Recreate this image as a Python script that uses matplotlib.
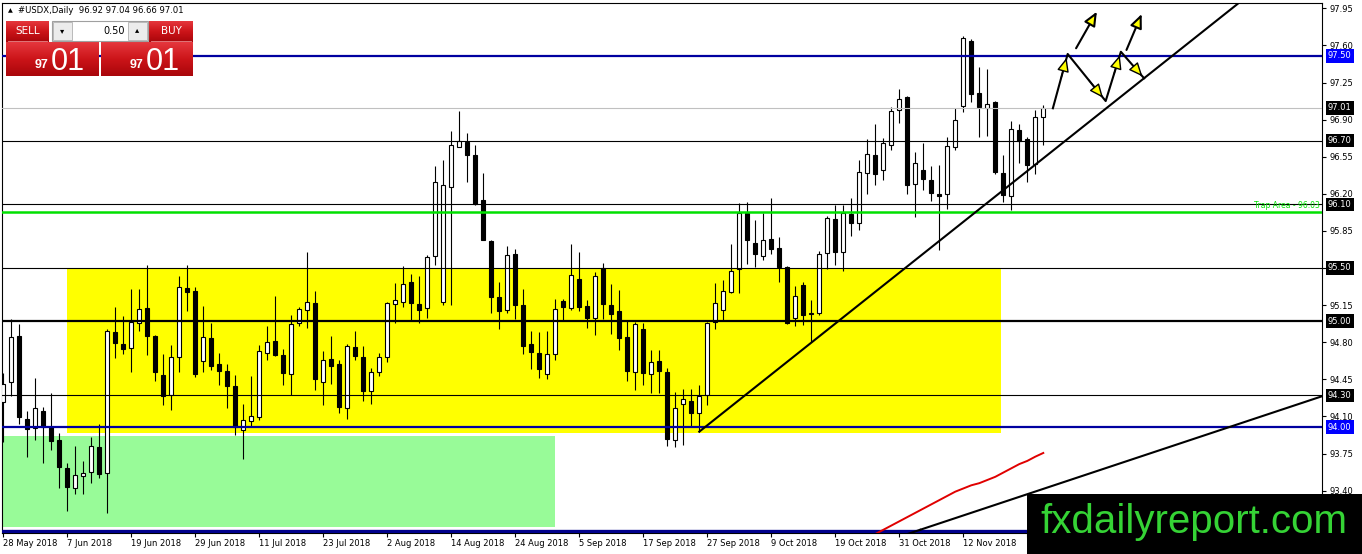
import numpy as np
import pandas as pd
import matplotlib
matplotlib.use('Agg')
import matplotlib.pyplot as plt
import matplotlib.transforms as mtransforms
from matplotlib.patches import Rectangle
from matplotlib.colors import LinearSegmentedColormap

plt.rcParams['font.family'] = ['DejaVu Sans']

# USDX daily candles, 28 May 2018 .. 26 Nov 2018
opens = [94.24, 94.42, 94.86, 94.08, 93.99, 94.15, 94.00, 93.88, 93.61, 93.42,
         93.54, 93.58, 93.81, 93.57, 94.90, 94.78, 94.75, 94.98, 95.12, 94.86,
         94.49, 94.30, 94.66, 95.31, 95.28, 94.62, 94.84, 94.59, 94.53, 94.39,
         93.97, 94.06, 94.09, 94.70, 94.81, 94.68, 94.50, 94.98, 95.10, 95.17,
         94.42, 94.64, 94.59, 94.18, 94.75, 94.66, 94.34, 94.52, 94.66, 95.16,
         95.18, 95.37, 95.16, 95.12, 95.61, 95.18, 96.26, 96.64, 96.69, 96.57,
         96.14, 95.75, 95.23, 95.10, 95.63, 95.15, 94.78, 94.70, 94.50, 94.69,
         95.19, 95.12, 95.40, 95.14, 95.03, 95.50, 95.15, 95.09, 94.85, 94.52,
         94.92, 94.50, 94.62, 94.52, 93.88, 94.22, 94.25, 94.13, 94.30, 94.99,
         95.10, 95.27, 95.49, 96.02, 95.74, 95.61, 95.77, 95.69, 95.51, 95.03,
         95.34, 95.07, 95.08, 95.64, 95.96, 95.65, 96.01, 95.92, 96.40, 96.57,
         96.42, 96.66, 96.99, 97.11, 96.29, 96.42, 96.33, 96.20, 96.20, 96.64,
         97.03, 97.64, 97.15, 97.01, 97.07, 96.40, 96.18, 96.80, 96.72, 96.48,
         96.92]
highs = [94.51, 95.02, 94.97, 94.15, 94.46, 94.19, 94.32, 93.94, 93.66, 93.82,
         93.68, 93.91, 94.03, 94.92, 95.13, 95.05, 95.30, 95.30, 95.53, 94.87,
         94.69, 94.77, 95.42, 95.53, 95.32, 95.14, 94.98, 94.70, 94.59, 94.49,
         94.22, 94.48, 94.77, 94.95, 95.24, 94.74, 95.06, 95.13, 95.65, 95.28,
         94.72, 94.86, 94.63, 94.78, 94.91, 94.76, 94.56, 94.70, 95.18, 95.36,
         95.52, 95.44, 95.42, 95.62, 96.46, 96.52, 96.79, 96.98, 96.77, 96.66,
         96.40, 95.76, 95.37, 95.71, 95.68, 95.30, 94.91, 94.90, 94.91, 95.21,
         95.21, 95.73, 95.65, 95.20, 95.46, 95.55, 95.35, 95.29, 95.00, 94.99,
         94.98, 94.73, 94.73, 94.56, 94.33, 94.36, 94.36, 94.40, 94.99, 95.36,
         95.39, 95.73, 96.11, 96.12, 95.95, 96.02, 96.16, 95.79, 95.52, 95.33,
         95.37, 95.20, 95.66, 95.99, 96.09, 96.09, 96.16, 96.52, 96.72, 96.86,
         96.73, 97.02, 97.19, 97.12, 96.59, 96.68, 96.46, 96.47, 96.74, 97.01,
         97.69, 97.66, 97.40, 97.38, 97.08, 96.57, 96.89, 96.86, 96.74, 96.99,
         97.04]
lows = [93.86, 94.29, 94.03, 93.72, 93.88, 93.66, 93.78, 93.42, 93.21, 93.37,
        93.37, 93.47, 93.52, 93.19, 94.65, 94.69, 94.52, 94.91, 94.68, 94.43,
        94.21, 94.16, 94.52, 95.09, 94.47, 94.52, 94.54, 94.40, 94.18, 93.92,
        93.70, 94.00, 94.07, 94.63, 94.67, 94.40, 94.30, 94.95, 94.93, 94.35,
        94.21, 94.41, 94.13, 94.08, 94.63, 94.25, 94.22, 94.48, 94.61, 94.98,
        95.13, 95.01, 94.98, 95.03, 95.53, 95.15, 95.15, 96.64, 96.31, 96.09,
        95.76, 95.08, 94.92, 95.08, 95.02, 94.69, 94.55, 94.46, 94.45, 94.63,
        95.01, 95.10, 95.09, 94.93, 94.87, 95.02, 94.88, 94.73, 94.43, 94.35,
        94.40, 94.32, 94.32, 93.82, 93.81, 93.83, 94.00, 93.955, 94.21, 94.92,
        95.01, 95.26, 95.26, 95.54, 95.51, 95.58, 95.63, 95.37, 94.97, 94.95,
        94.96, 94.80, 95.06, 95.49, 95.53, 95.47, 95.80, 95.86, 96.20, 96.28,
        96.33, 96.61, 96.87, 96.20, 95.98, 96.24, 96.13, 95.67, 96.06, 96.61,
        96.97, 97.07, 96.74, 96.75, 96.39, 96.12, 96.05, 96.49, 96.31, 96.39,
        96.66]
closes = [94.41, 94.85, 94.09, 93.98, 94.18, 94.00, 93.87, 93.62, 93.43, 93.55,
          93.57, 93.82, 93.56, 94.91, 94.79, 94.74, 94.99, 95.11, 94.86, 94.52,
          94.29, 94.66, 95.32, 95.27, 94.50, 94.85, 94.58, 94.53, 94.39, 94.00,
          94.07, 94.10, 94.72, 94.80, 94.68, 94.51, 94.97, 95.11, 95.18, 94.45,
          94.63, 94.58, 94.19, 94.76, 94.67, 94.34, 94.52, 94.66, 95.17, 95.20,
          95.35, 95.17, 95.10, 95.60, 96.31, 96.28, 96.66, 96.70, 96.57, 96.10,
          95.76, 95.23, 95.09, 95.62, 95.15, 94.76, 94.71, 94.55, 94.69, 95.11,
          95.13, 95.43, 95.13, 95.03, 95.42, 95.16, 95.07, 94.84, 94.53, 94.97,
          94.51, 94.61, 94.53, 93.89, 94.18, 94.26, 94.13, 94.29, 94.98, 95.17,
          95.28, 95.47, 96.02, 95.76, 95.63, 95.76, 95.68, 95.51, 94.98, 95.24,
          95.06, 95.08, 95.63, 95.97, 95.65, 96.02, 95.92, 96.41, 96.58, 96.39,
          96.68, 96.98, 97.09, 96.28, 96.49, 96.34, 96.21, 96.18, 96.65, 96.90,
          97.67, 97.14, 97.02, 97.05, 96.41, 96.19, 96.81, 96.70, 96.47, 96.92,
          97.01]

dates = pd.bdate_range('2018-05-28', periods=len(opens))

# red moving average, visible part only (bar index, value)
ma_idx = list(range(109, 131))
ma_vals = [92.99, 93.03, 93.07, 93.11, 93.15, 93.19, 93.23, 93.27, 93.31, 93.35,
           93.39, 93.42, 93.45, 93.47, 93.50, 93.53, 93.57, 93.61, 93.65, 93.68,
           93.72, 93.755]

# horizontal levels drawn on the chart
levels = [97.50, 97.01, 96.70, 96.10, 96.03, 95.50, 95.00, 94.30, 94.00, 93.02]
boxed_levels = [97.50, 97.01, 96.70, 96.10, 95.50, 95.00, 94.30, 94.00]
blue_boxed = [97.50, 94.00]
trap_level = 96.03

# zones (bar index from/to, price from/to)
yellow_zone = (8, 124.7, 93.94, 95.50)
green_zone = (-5, 69, 93.06, 93.915)

# trend lines (two anchor points each)
trend_up = ([87, 154.6], [93.956, 98.01])
trend_low = ([114.6, 164.84], [93.03, 94.29])

# projected path and breakout arrows
path_x = [131.2, 133.05, 137.8, 139.7, 142.6]
path_y = [97.007, 97.519, 97.075, 97.54, 97.29]
breakouts = [((134.1, 97.573), (136.7, 97.918)), ((140.4, 97.557), (142.3, 97.896))]

y_ticks = [93.40, 93.75, 94.10, 94.45, 94.80, 95.15, 95.50, 95.85, 96.20,
           96.55, 96.90, 97.25, 97.60, 97.95]

W, H = 1362, 554
fig = plt.figure(figsize=(W / 100, H / 100), dpi=100)
fig.patch.set_facecolor('white')
ax = fig.add_axes([2 / W, 21 / H, 1320 / W, 530 / H])
ax.set_xlim(-0.16, 164.84)
ax.set_ylim(93.0, 98.0)

# zones
yz = yellow_zone
ax.add_patch(Rectangle((yz[0], yz[2]), yz[1] - yz[0], yz[3] - yz[2], fc='#ffff00', ec='none', zorder=1))
gz = green_zone
ax.add_patch(Rectangle((gz[0], gz[2]), gz[1] - gz[0], gz[3] - gz[2], fc='#98fb98', ec='none', zorder=1))

# candles
x = np.arange(len(opens))
o = np.array(opens)
c = np.array(closes)
up = c >= o
ax.vlines(x, lows, highs, color='black', lw=0.8, zorder=3)
ax.bar(x, np.abs(c - o), bottom=np.minimum(o, c), width=0.55,
       color=np.where(up, 'white', 'black'), edgecolor='black', linewidth=0.8, zorder=4)

# horizontal levels
level_style = {
    97.50: ('#0000a0', 1.6), 97.01: ('#c0c0c0', 0.8), 96.70: ('black', 0.8),
    96.10: ('black', 0.8), 96.03: ('#00e000', 1.8), 95.50: ('black', 0.8),
    95.00: ('black', 1.6), 94.30: ('black', 0.8), 94.00: ('#0000a0', 1.6),
    93.02: ('#00008b', 2.4),
}
for lv in levels:
    col, lw = level_style[lv]
    ax.axhline(lv, color=col, lw=lw, zorder=5)

# trend lines
for tx, ty in (trend_up, trend_low):
    slope = (ty[1] - ty[0]) / (tx[1] - tx[0])
    x_end = 170
    ax.plot([tx[0], x_end], [ty[0], ty[0] + slope * (x_end - tx[0])], color='black', lw=1.5, zorder=6)
# lower line continues to the left below the chart
tx, ty = trend_low
slope = (ty[1] - ty[0]) / (tx[1] - tx[0])
ax.plot([100, tx[0]], [ty[0] + slope * (100 - tx[0]), ty[0]], color='black', lw=1.5, zorder=6)

ax.plot(ma_idx, ma_vals, color='#e00000', lw=1.4, zorder=6)

# projected path
ax.plot(path_x, path_y, color='black', lw=1.5, zorder=7)
head = dict(arrowstyle='-|>,head_length=0.6,head_width=0.26', fc='#ffff00', ec='black',
            lw=1.0, mutation_scale=14, shrinkA=0, shrinkB=0)
for i in range(len(path_x) - 1):
    x0, y0, x1, y1 = path_x[i], path_y[i], path_x[i + 1], path_y[i + 1]
    tip = (x0 + 0.93 * (x1 - x0), y0 + 0.93 * (y1 - y0))
    st = (x0 + 0.55 * (x1 - x0), y0 + 0.55 * (y1 - y0))
    ax.annotate('', xy=tip, xytext=st, arrowprops=head, zorder=8)
for st, tip in breakouts:
    ax.annotate('', xy=tip, xytext=st,
                arrowprops=dict(head, lw=1.5), zorder=8)

# axes look
for sp in ax.spines.values():
    sp.set_color('black')
    sp.set_linewidth(0.8)
ax.yaxis.tick_right()
ax.set_yticks(y_ticks)
ax.set_yticklabels([f'{v:.2f}' for v in y_ticks])
ax.tick_params(axis='y', direction='out', length=3, width=0.8, pad=2.5, labelsize=6, colors='black')
xt = list(range(0, len(opens), 8))
ax.set_xticks(xt)
ax.set_xticklabels([f'{dates[i].day} {dates[i]:%b %Y}' for i in xt], ha='left')
ax.tick_params(axis='x', direction='out', length=3, width=0.8, pad=1.5, labelsize=6)

# price boxes on the right axis
trans = mtransforms.blended_transform_factory(ax.transAxes, ax.transData)
trans = mtransforms.offset_copy(trans, fig=fig, x=6, y=0, units='dots')
for lv in boxed_levels:
    fc = '#0000ff' if lv in blue_boxed else 'black'
    ax.text(1.0, lv, f'{lv:.2f}', transform=trans, ha='left', va='center', color='white',
            fontsize=6, clip_on=False, zorder=9,
            bbox=dict(boxstyle='square,pad=0.25', fc=fc, ec='none'))

ax.text(0.9985, trap_level + 0.055, f'Trap Area - {trap_level:.2f}', transform=ax.get_yaxis_transform(),
        ha='right', va='center', color='#00e000', fontsize=5.5, zorder=9)

# overlay: header, trading panel, watermark
ov = fig.add_axes([0, 0, 1, 1], zorder=10)
ov.axis('off')

red_cmap = LinearSegmentedColormap.from_list('btn', ['#e5373d', '#cc1419', '#a9060b'])


def red_block(x0, y0, x1, y1):
    grad = np.linspace(0, 1, 64).reshape(-1, 1)
    ov.imshow(grad, cmap=red_cmap, extent=[x0, x1, y1, y0], aspect='auto', zorder=2,
              interpolation='bilinear')


red_block(6, 21, 49, 42)
red_block(149, 21, 193, 42)
red_block(6, 42, 99, 76)
red_block(101, 42, 193, 76)
ov.plot([8, 47], [41, 41], color='#e88a8c', lw=0.6, zorder=3)
ov.plot([151, 191], [41, 41], color='#e88a8c', lw=0.6, zorder=3)
ov.add_patch(Rectangle((52, 21), 96, 20, fc='white', ec='#a0a0a0', lw=0.8, zorder=2))
ov.add_patch(Rectangle((53, 22), 19, 18, fc='#ececec', ec='#b0b0b0', lw=0.6, zorder=3))
ov.add_patch(Rectangle((128, 22), 19, 18, fc='#ececec', ec='#b0b0b0', lw=0.6, zorder=3))
ov.text(62.5, 31, '▾', ha='center', va='center', fontsize=6, color='black', zorder=4)
ov.text(137.5, 30, '▴', ha='center', va='center', fontsize=6, color='black', zorder=4)
ov.text(125, 31, '0.50', ha='right', va='center', fontsize=7, color='black', zorder=4)
ov.text(27.5, 31, 'SELL', ha='center', va='center', fontsize=7.5, color='white', zorder=4)
ov.text(171, 31, 'BUY', ha='center', va='center', fontsize=7.5, color='white', zorder=4)

last_close = closes[-1]
big, small = f'{last_close:.2f}'.split('.')
for bx in (0, 95):
    ov.text(48 + bx, 68, big, ha='right', va='baseline', fontsize=9, color='white',
            fontweight='bold', family='Liberation Sans', zorder=4)
    ov.text(51 + bx, 70, small, ha='left', va='baseline', fontsize=22, color='white',
            family='Liberation Sans', zorder=4)

ov.text(10, 10.5, '▲', ha='center', va='center', fontsize=4.5, color='black')
ov.text(18, 10.5, f'#USDX,Daily  {opens[-1]:.2f} {highs[-1]:.2f} {lows[-1]:.2f} {closes[-1]:.2f}',
        ha='left', va='center', fontsize=6.1, color='black')

ov.add_patch(Rectangle((1027, 494), W - 1027, H - 494, fc='black', ec='none', zorder=5))
ov.text(1194, 522, 'fxdailyreport.com', ha='center', va='center', fontsize=29, color='#35d335',
        family='Liberation Sans', zorder=6)

ov.set_xlim(0, W)
ov.set_ylim(H, 0)

fig.savefig('out.png', dpi=100)
